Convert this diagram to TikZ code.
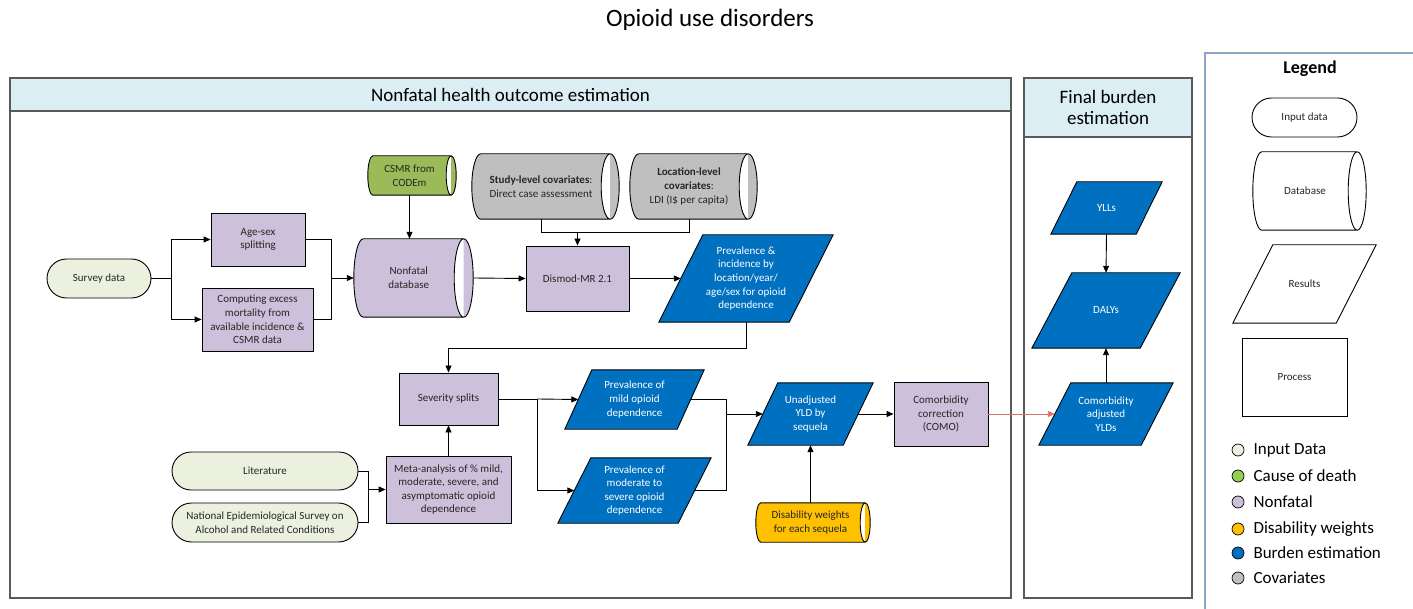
\documentclass[tikz,border=0pt]{standalone}
\usepackage{fontspec}
\setmainfont{Carlito}
\usetikzlibrary{arrows.meta,calc,backgrounds,shapes.misc}

\definecolor{inputc}{HTML}{EBF1DE}
\definecolor{codc}{HTML}{9BBB59}
\definecolor{codleg}{HTML}{92D050}
\definecolor{nonfc}{HTML}{CCC0DA}
\definecolor{dwc}{HTML}{FFC000}
\definecolor{burdc}{HTML}{0070C0}
\definecolor{covc}{HTML}{BFBFBF}
\definecolor{headc}{HTML}{DAEEF3}
\definecolor{panelc}{HTML}{595959}
\definecolor{legc}{HTML}{8EA6C6}
\definecolor{redc}{HTML}{D9736A}
\definecolor{txtc}{HTML}{262626}

\newcommand{\nf}{\fontsize{11}{13.6}\selectfont}
\newcommand{\lf}{\fontsize{11}{13}\selectfont}

% parallelogram outline behind a node: node name, slant (pt), fill
\newcommand{\paraback}[3]{%
  \begin{scope}[on background layer]
  \path let \p1=(#1.north west), \p2=(#1.south east) in
    [draw=black, line width=0.9pt, fill=#3, line join=miter]
    (\x1+#2pt,\y1) -- (\x2,\y1) -- (\x2-#2pt,\y2) -- (\x1,\y2) -- cycle;
  \end{scope}}

% horizontal database cylinder around a node body: node name, end x radius (pt), fill
% the visible end ellipse is centred on the east edge of the node
\newcommand{\cylback}[3]{%
  \begin{scope}[on background layer]
  \path let \p1=(#1.north east), \p2=(#1.south west), \n1={(\y1-\y2)/2} in
    [draw=black, line width=0.9pt, fill=#3]
    (\x2+#2pt,\y1) -- (\x1,\y1)
      arc[start angle=90, end angle=-90, x radius=#2pt, y radius=\n1]
      -- (\x2+#2pt,\y2)
      arc[start angle=270, end angle=90, x radius=#2pt, y radius=\n1] -- cycle
    (\x1,\y1) arc[start angle=90, end angle=270, x radius=#2pt, y radius=\n1];
  \end{scope}}

\tikzset{
  base/.style={align=center, inner sep=0pt, text=txtc, font=\nf},
  sz/.style 2 args={minimum width=#1pt, minimum height=#2pt},
  procbox/.style={base, rectangle, draw=black, line width=0.9pt, fill=nonfc},
  inbox/.style={base, rounded rectangle, draw=black, line width=0.9pt, fill=inputc},
  shell/.style={base, rectangle, draw=none},
  resbox/.style={shell, text=white},
  conn/.style={-{Triangle[length=7pt,width=6pt]}, line width=0.9pt, black},
  wire/.style={line width=0.9pt, black},
  panel/.style={draw=panelc, line width=1.2pt},
  lgdot/.style={circle, draw=black, line width=0.7pt, minimum size=12pt, inner sep=0pt},
  lgtext/.style={anchor=west, inner sep=0pt, text=black, font=\fontsize{17}{19}\selectfont},
}

\begin{document}
\begin{tikzpicture}[x=1pt, y=-1pt]
\useasboundingbox (0,0) rectangle (1413,609);
\begin{scope}[on background layer]
  \fill[white] (0,0) rectangle (1413,609);
\end{scope}

% title
\node[font=\fontsize{25}{29}\selectfont, text=black] (title) at (710,20) {Opioid use disorders};

% panels
\fill[headc] (10,78) rectangle (1011,111);
\draw[panel] (10,78) rectangle (1011,598);
\draw[panel] (10,111) -- (1011,111);
\node[font=\fontsize{19}{22}\selectfont, text=black] (nfhead) at (510.5,95) {Nonfatal health outcome estimation};

\fill[headc] (1024,78) rectangle (1192,137);
\draw[panel] (1024,78) rectangle (1192,598);
\draw[panel] (1024,137) -- (1192,137);
\node[align=center, font=\fontsize{19}{21}\selectfont, text=black] (fbhead) at (1108,107.5) {Final burden\\estimation};

\draw[legc, line width=1.6pt] (1205,609) -- (1205,53) -- (1413,53);

% nonfatal estimation
\node[inbox, sz={104}{39}] (survey) at (99,278.5) {Survey data};
\node[procbox, sz={94}{53}] (agesex) at (258,239.5) {Age-sex\\splitting};
\node[procbox, sz={111}{63}] (excess) at (257.5,319.5) {Computing excess\\mortality from\\available incidence \&\\CSMR data};
\node[shell, sz={83}{39}] (csmr) at (409.5,175.5) {CSMR from\\CODEm};
\cylback{csmr}{5}{codc}
\node[shell, sz={109.5}{78}] (nfdb) at (408.75,278) {Nonfatal\\database};
\cylback{nfdb}{9.5}{nonfc}
\node[shell, sz={138}{65}] (studycov) at (541,186.5) {\textbf{Study-level covariates}:\\Direct case assessment};
\cylback{studycov}{9}{covc}
\node[shell, sz={118}{65}] (loccov) at (689,186.5) {\textbf{Location-level}\\\textbf{covariates}:\\LDI (I\$ per capita)};
\cylback{loccov}{9}{covc}
\node[procbox, sz={103}{65}] (dismod) at (577.5,278.5) {Dismod-MR 2.1};
\node[resbox, sz={174}{87}] (previnc) at (746,278.5) {Prevalence \&\\incidence by\\location/year/\\age/sex for opioid\\dependence};
\paraback{previnc}{44}{burdc}
\node[procbox, sz={99}{52}] (severity) at (448.5,399) {Severity splits};
\node[procbox, sz={125}{67}] (meta) at (448.5,489.5) {Meta-analysis of \% mild,\\moderate, severe, and\\asymptomatic opioid\\dependence};
\node[inbox, sz={186}{38}] (lit) at (265,471) {Literature};
\node[inbox, sz={186}{39}] (nesarc) at (265,522.5) {National Epidemiological Survey on\\Alcohol and Related Conditions};
\node[resbox, sz={139}{59}] (mild) at (634.5,399.5) {Prevalence of\\mild opioid\\dependence};
\paraback{mild}{27}{burdc}
\node[resbox, sz={153}{65}] (moderate) at (634.5,490.5) {Prevalence of\\moderate to\\severe opioid\\dependence};
\paraback{moderate}{33}{burdc}
\node[resbox, sz={125}{62}] (unadj) at (810.5,414) {Unadjusted\\YLD by\\sequela};
\paraback{unadj}{30}{burdc}
\node[procbox, sz={94}{64}] (como) at (941,414) {Comorbidity\\correction\\(COMO)};
\node[shell, sz={109}{39}] (dw) at (810.5,522.5) {Disability weights\\for each sequela};
\cylback{dw}{5}{dwc}

% final burden
\node[resbox, sz={111}{52}, font=\lf] (ylls) at (1106.5,208) {YLLs};
\paraback{ylls}{26}{burdc}
\node[resbox, sz={148}{75}, font=\lf] (dalys) at (1106,310.5) {DALYs};
\paraback{dalys}{40}{burdc}
\node[resbox, sz={134}{62}] (cadj) at (1106,414) {Comorbidity\\adjusted\\YLDs};
\paraback{cadj}{32}{burdc}

% connectors
\draw[wire] (survey.east) -- ++(20,0) coordinate (sj);
\draw[conn] (sj) |- (agesex.west);
\draw[conn] (sj) |- (excess.west);
\coordinate (mj) at ($(nfdb.west)+(-22,0)$);
\draw[wire] (agesex.east) -| (mj);
\draw[wire] (excess.east) -| (mj);
\draw[conn] (mj) -- (nfdb.west);
\draw[conn] (csmr.south) -- (csmr.south |- nfdb.north);
\draw[conn] ($(nfdb.east)+(9.5,0)$) -- (dismod.west);
\draw[wire] (studycov.south) -- ++(0,13) -| (loccov.south);
\draw[conn] ($(dismod.north)+(0,-14)$) -- (dismod.north);
\draw[conn] (dismod.east) -- ($(previnc.west)+(22,0)$);
\draw[conn] (previnc.south) -- ++(0,26) -| (severity.north);
\draw[conn] (meta.north) -- (severity.south);
\draw[wire] (lit.east) -- ++(10,0) coordinate (lj) |- (nesarc.east);
\draw[conn] (lj |- meta.west) -- (meta.west);
\draw[wire] (severity.east) -- ++(39,0) coordinate (sj2);
\draw[conn] (sj2) -- ($(mild.west)+(13.5,0)$);
\draw[conn] (sj2) |- ($(moderate.west)+(16.5,0)$);
\coordinate (mj2) at ($(unadj.west)+(-21,0)$);
\draw[wire] ($(mild.east)+(-13.5,0)$) -| (mj2);
\draw[wire] ($(moderate.east)+(-16.5,0)$) -| (mj2);
\draw[conn] (mj2) -- ($(unadj.west)+(15,0)$);
\draw[conn] ($(unadj.east)+(-15,0)$) -- (como.west);
\draw[conn] (dw.north) -- (dw.north |- unadj.south);
\draw[conn, redc] (como.east) -- ($(cadj.west)+(16,0)$);
\draw[conn] (ylls.south) -- (dalys.north);
\draw[conn] (cadj.north) -- (dalys.south);

% legend
\node[font=\fontsize{18}{20}\selectfont\bfseries, text=black] (legtitle) at (1310,69) {Legend};
\node[inbox, fill=white, sz={105}{39}, font=\lf] (lgin) at (1304.5,117.5) {Input data};
\node[shell, sz={104}{78}, font=\lf] (lgdb) at (1305,191) {Database};
\cylback{lgdb}{9}{white}
\node[shell, sz={143}{78}, font=\lf] (lgres) at (1304.5,284) {Results};
\paraback{lgres}{40}{white}
\node[procbox, fill=white, sz={105}{78}, font=\lf] (lgproc) at (1294.5,377) {Process};

\node[lgdot, fill=inputc] (d1) at (1238,450) {};
\node[lgdot, fill=codleg] (d2) at (1238,476) {};
\node[lgdot, fill=nonfc] (d3) at (1238,502) {};
\node[lgdot, fill=dwc] (d4) at (1238,529) {};
\node[lgdot, fill=burdc] (d5) at (1238,553) {};
\node[lgdot, fill=covc] (d6) at (1238,578) {};
\node[lgtext] (t1) at ($(d1.east)+(9,0)$) {Input Data};
\node[lgtext] (t2) at ($(d2.east)+(9,0)$) {Cause of death};
\node[lgtext] (t3) at ($(d3.east)+(9,0)$) {Nonfatal};
\node[lgtext] (t4) at ($(d4.east)+(9,0)$) {Disability weights};
\node[lgtext] (t5) at ($(d5.east)+(9,0)$) {Burden estimation};
\node[lgtext] (t6) at ($(d6.east)+(9,0)$) {Covariates};
\end{tikzpicture}
\end{document}
